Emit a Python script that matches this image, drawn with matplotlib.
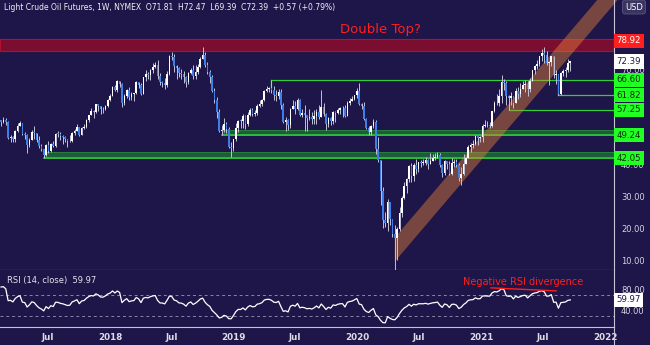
import numpy as np
import pandas as pd
import matplotlib
matplotlib.use("Agg")
import matplotlib.pyplot as plt
import matplotlib.dates as mdates
import matplotlib.transforms as mtrans
from matplotlib.patches import Rectangle, Polygon
from matplotlib.lines import Line2D

# weekly closes / highs / lows (weeks starting Monday), Nov 2016 .. Sep 2021
close_2016 = [43.41, 45.69, 46.06, 51.68, 51.50, 51.90, 53.02, 53.72]
high_2016 = [45.95, 46.40, 49.20, 51.90, 52.42, 53.62, 53.40, 54.37]
low_2016 = [42.20, 43.03, 45.80, 44.82, 50.25, 50.27, 51.25, 52.75]

close_2017 = [53.99, 52.37, 53.22, 53.17, 53.83, 53.86, 53.40, 53.99, 53.33, 48.49, 48.78, 47.97, 50.60,
              52.24, 53.18, 49.62, 49.33, 46.22, 47.84, 50.33, 49.80, 47.66, 45.83, 44.74, 43.01, 46.04,
              44.23, 46.54, 45.77, 49.71, 49.58, 48.82, 48.51, 47.87, 47.29, 47.48, 49.89, 50.66, 51.67,
              49.29, 51.45, 51.84, 53.90, 55.64, 56.74, 56.55, 58.95, 58.36, 57.36, 57.30, 58.47, 60.42]
high_2017 = [55.24, 53.90, 53.75, 54.33, 54.48, 54.10, 54.00, 54.94, 54.60, 53.80, 49.22, 49.08, 50.85,
             53.00, 53.76, 53.10, 50.15, 49.46, 48.20, 50.84, 52.00, 50.05, 48.85, 46.38, 44.80, 46.40,
             47.32, 46.90, 47.45, 49.81, 50.43, 50.22, 49.20, 48.87, 48.02, 49.42, 50.28, 51.11, 52.86,
             51.78, 51.80, 52.80, 54.20, 55.72, 57.92, 57.00, 59.05, 58.90, 58.50, 58.16, 58.70, 60.51]
low_2017 = [51.97, 50.71, 50.91, 52.15, 52.12, 51.22, 52.21, 53.10, 52.42, 48.08, 47.09, 47.05, 47.10,
            50.30, 52.25, 49.40, 48.18, 43.76, 45.50, 47.80, 48.18, 47.03, 45.20, 44.20, 42.05, 42.60,
            43.70, 43.80, 45.40, 45.50, 48.54, 47.80, 46.46, 46.96, 45.58, 47.02, 46.95, 49.30, 50.55,
            49.10, 49.45, 51.06, 51.37, 53.45, 55.60, 54.48, 56.15, 56.75, 55.82, 56.05, 57.05, 58.22]

close_2018 = [61.44, 64.30, 63.37, 66.14, 65.45, 59.20, 61.68, 63.55, 61.25, 62.04, 62.34, 65.88, 64.94,
              62.06, 67.39, 68.38, 68.10, 69.72, 70.70, 71.28, 67.88, 65.81, 65.74, 65.06, 68.58, 74.15,
              73.80, 71.01, 70.46, 68.69, 68.49, 67.63, 65.91, 68.72, 69.80, 67.75, 68.99, 70.78, 73.25,
              74.34, 71.34, 69.12, 67.59, 63.14, 60.19, 56.46, 50.42, 50.93, 52.61, 51.20, 45.59, 45.33]
high_2018 = [62.21, 64.77, 64.89, 66.66, 66.40, 65.74, 62.09, 63.73, 64.24, 62.90, 62.45, 66.16, 66.07,
             65.50, 67.45, 69.56, 69.00, 70.00, 71.89, 72.30, 72.90, 68.71, 66.22, 67.14, 69.28, 74.46,
             75.27, 74.70, 71.36, 70.80, 70.07, 69.49, 67.72, 69.07, 70.45, 71.40, 71.28, 71.64, 73.81,
             76.90, 75.50, 72.11, 69.79, 68.15, 64.14, 61.18, 57.55, 52.40, 54.55, 53.27, 51.93, 47.03]
low_2018 = [60.10, 61.60, 63.00, 62.81, 64.33, 58.07, 58.84, 60.79, 60.15, 60.15, 60.11, 62.05, 64.20,
            61.84, 62.06, 66.15, 67.03, 66.52, 68.63, 70.37, 66.90, 64.93, 64.27, 63.59, 64.21, 68.23,
            72.75, 69.16, 67.03, 67.49, 66.92, 65.71, 64.43, 65.31, 68.48, 66.85, 66.90, 68.40, 70.30,
            73.06, 70.79, 68.47, 65.74, 62.80, 59.26, 54.75, 50.15, 49.41, 50.08, 49.91, 45.07, 42.36]

close_2019 = [47.96, 51.59, 53.80, 53.69, 55.26, 52.72, 55.59, 57.26, 55.80, 56.07, 58.52, 59.04, 60.14,
              63.08, 63.89, 64.00, 63.30, 61.94, 61.66, 62.76, 58.63, 53.50, 54.00, 52.51, 57.43, 58.47,
              57.51, 60.21, 55.63, 56.20, 55.66, 54.50, 54.87, 54.17, 55.10, 56.52, 54.85, 58.09, 55.91,
              52.81, 54.70, 53.78, 56.66, 56.20, 57.24, 57.72, 57.77, 55.17, 59.20, 60.07, 60.44, 61.72]
high_2019 = [48.12, 52.95, 54.10, 54.21, 55.75, 55.65, 56.38, 57.81, 57.88, 57.25, 58.99, 60.39, 60.74,
             63.40, 64.79, 64.44, 66.60, 64.77, 63.32, 63.85, 63.70, 59.23, 54.84, 54.40, 57.90, 60.27,
             59.93, 60.94, 60.47, 57.38, 58.82, 55.35, 57.47, 56.59, 57.04, 57.50, 58.76, 63.38, 59.30,
             56.13, 54.95, 54.81, 56.89, 56.92, 57.88, 58.00, 58.50, 58.57, 59.85, 60.93, 61.50, 61.88]
low_2019 = [44.35, 47.53, 50.20, 51.33, 51.33, 51.23, 51.97, 55.26, 55.35, 55.34, 55.70, 58.05, 58.25,
            60.02, 62.65, 62.85, 62.61, 60.40, 60.04, 60.64, 57.33, 52.97, 50.60, 50.72, 51.33, 57.36,
            55.75, 57.04, 55.16, 55.06, 50.52, 50.52, 53.90, 52.70, 52.86, 52.81, 54.23, 57.18, 55.20,
            50.99, 51.87, 52.37, 52.62, 53.30, 55.82, 56.03, 55.01, 54.92, 55.37, 58.55, 59.90, 60.27]

close_2020 = [63.05, 59.04, 58.54, 54.19, 51.56, 50.32, 52.05, 53.38, 44.76, 41.28, 31.73, 22.43, 21.51,
              28.34, 22.76, 18.27, 16.94, 19.78, 24.74, 29.43, 33.25, 35.49, 39.55, 36.26, 39.75, 38.49,
              40.65, 40.55, 40.59, 41.29, 40.27, 41.22, 42.01, 42.34, 42.97, 39.77, 37.33, 41.11, 40.25,
              37.05, 40.60, 40.88, 39.85, 35.79, 37.14, 40.13, 42.15, 45.53, 46.26, 46.57, 49.10, 48.23,
              48.52]
high_2020 = [64.09, 65.65, 59.45, 59.65, 54.48, 52.13, 52.40, 54.45, 54.00, 48.66, 35.00, 33.00, 25.24,
             29.13, 28.36, 22.47, 21.00, 20.48, 26.74, 30.00, 34.66, 35.73, 39.80, 40.44, 40.40, 41.63,
             40.76, 41.33, 41.63, 42.51, 41.62, 43.52, 43.29, 43.78, 43.88, 43.68, 40.02, 41.39, 40.83,
             40.98, 41.91, 41.65, 41.62, 40.44, 39.23, 43.16, 42.43, 46.26, 46.68, 47.74, 49.40, 49.03,
             48.96]
low_2020 = [60.80, 58.78, 57.36, 53.95, 51.32, 49.31, 49.42, 51.57, 43.32, 40.84, 27.34, 20.06, 20.52,
            19.27, 21.07, 17.31, 6.50, 10.07, 19.11, 23.65, 29.03, 31.13, 34.36, 34.66, 34.88, 37.08,
            37.71, 39.30, 39.70, 39.82, 38.72, 40.39, 41.35, 41.38, 42.18, 39.11, 36.13, 36.65, 38.68,
            36.63, 36.70, 39.32, 39.25, 34.92, 33.64, 36.75, 40.14, 42.10, 43.79, 45.31, 46.17, 46.20,
            47.13]

close_2021 = [52.24, 52.36, 52.27, 52.20, 56.85, 59.47, 59.24, 61.50, 66.09, 65.61, 61.42, 60.97, 61.45,
              59.32, 63.13, 62.14, 63.58, 64.90, 65.37, 63.58, 66.32, 69.62, 70.91, 71.64, 74.05, 75.16,
              74.56, 71.81, 72.07, 73.95, 68.28, 68.44, 62.32, 68.74, 69.29, 69.72, 71.82, 72.39]
high_2021 = [52.75, 53.93, 53.55, 53.44, 56.95, 59.82, 62.26, 63.81, 67.98, 67.02, 66.40, 61.82, 62.70,
             61.69, 63.98, 64.36, 65.47, 66.39, 66.66, 66.40, 67.06, 69.77, 71.24, 72.99, 74.25, 76.40,
             76.98, 75.52, 72.40, 74.24, 74.00, 69.56, 68.33, 69.12, 70.14, 70.58, 73.13, 72.47]
low_2021 = [47.18, 51.82, 51.82, 51.39, 51.86, 56.60, 58.61, 58.40, 59.47, 63.27, 58.73, 57.25, 58.62,
            57.63, 59.45, 60.56, 61.25, 63.62, 62.87, 61.56, 62.93, 66.12, 68.40, 70.10, 71.05, 72.63,
            71.82, 71.20, 65.01, 71.10, 67.25, 65.15, 61.74, 61.82, 67.67, 67.58, 69.16, 69.39]

last_open = 71.81
support_levels = [66.60, 61.82, 57.25]
support_zones = [(49.24, 50.90), (42.05, 43.90)]
resistance_zone = (75.80, 79.30)
resistance_label = 78.92
last_rsi = 59.97

closes = np.array(close_2016 + close_2017 + close_2018 + close_2019 + close_2020 + close_2021)
highs = np.array(high_2016 + high_2017 + high_2018 + high_2019 + high_2020 + high_2021)
lows = np.array(low_2016 + low_2017 + low_2018 + low_2019 + low_2020 + low_2021)
dates = pd.date_range(end="2021-09-20", periods=len(closes), freq="W-MON")
x = mdates.date2num(dates)

opens = np.r_[closes[0], closes[:-1]]
opens[-1] = last_open
hi = np.maximum.reduce([highs, opens, closes])
lo = np.minimum.reduce([lows, opens, closes])


def rsi(c, n=14):
    d = np.diff(c)
    g = np.where(d > 0, d, 0.0)
    l = np.where(d < 0, -d, 0.0)
    ag, al = g[:n].mean(), l[:n].mean()
    out = np.full(len(c), np.nan)
    out[n] = 100 - 100 / (1 + ag / al)
    for i in range(n + 1, len(c)):
        ag = (ag * (n - 1) + g[i - 1]) / n
        al = (al * (n - 1) + l[i - 1]) / n
        out[i] = 100 - 100 / (1 + ag / al) if al > 0 else 100
    return out


rsi_vals = rsi(closes)

BG = "#1e1548"
AXC = "#c4c4d4"
W, H = 650, 345

fig = plt.figure(figsize=(6.5, 3.45), dpi=100, facecolor=BG)
ax = fig.add_axes([0, 75 / H, 614 / W, 270 / H], facecolor=BG)
axr = fig.add_axes([0, 18 / H, 614 / W, 57 / H], facecolor=BG, sharex=ax)

xmin = mdates.date2num(pd.Timestamp("2017-02-10"))
xmax = mdates.date2num(pd.Timestamp("2022-01-27"))
ax.set_xlim(xmin, xmax)
ax.set_ylim(6.86, 91.7)
axr.set_ylim(9.5, 116)

# resistance zone
ax.add_patch(Rectangle((xmin, resistance_zone[0]), xmax - xmin, resistance_zone[1] - resistance_zone[0],
                       fc="#7b0e30", ec="#b3122f", lw=0.8, zorder=1))

# support zones and lines
zone_start = [pd.Timestamp("2018-11-26"), pd.Timestamp("2017-06-19")]
for (lo_z, hi_z), st in zip(support_zones, zone_start):
    s = mdates.date2num(st)
    ax.add_patch(Rectangle((s, lo_z), xmax - s, hi_z - lo_z, fc="#1e5a3d", ec="#2a8a3c", lw=0.6, zorder=1))
    ax.plot([s, xmax], [lo_z, lo_z], color="#2fd03a", lw=1.1, zorder=1.2)

line_start = [pd.Timestamp("2019-04-22"), pd.Timestamp("2021-08-16"), pd.Timestamp("2021-03-22")]
for lvl, st in zip(support_levels, line_start):
    s = mdates.date2num(st)
    ax.plot([s, xmax], [lvl, lvl], color="#2fd03a", lw=0.9, zorder=1.2)
s = mdates.date2num(line_start[1])
ax.plot([s, s], [support_levels[1], support_levels[0]], color="#2fd03a", lw=0.9, zorder=1.2)
s = mdates.date2num(line_start[0])
ax.plot([s, s], [support_levels[0], support_levels[0] - 2.5], color="#2fd03a", lw=0.9, zorder=1.2)

# rising channel from the 2020 low
t0 = mdates.date2num(pd.Timestamp("2020-04-20"))
slope = 0.125
span = 720
chan = Polygon([(t0, 9.5), (t0, 17.0), (t0 + span, 17.0 + slope * span), (t0 + span, 9.5 + slope * span)],
               closed=True, fc="#e8833a", alpha=0.45, ec="none", zorder=1.5, clip_on=False)
ax.add_patch(chan)

# candles
up = closes >= opens
body = np.maximum(np.abs(closes - opens), 0.2)
ax.vlines(x, lo, hi, color="#c2c2d6", lw=0.7, zorder=3)
ax.bar(x[up], body[up], bottom=np.minimum(opens, closes)[up], width=4.8, color="white", lw=0, zorder=4)
ax.bar(x[~up], body[~up], bottom=np.minimum(opens, closes)[~up], width=4.8, color="#3d7fe6", lw=0, zorder=4)

# axes styling
for a in (ax, axr):
    for sp in a.spines.values():
        sp.set_visible(False)
    a.spines["right"].set_visible(True)
    a.spines["right"].set_color(AXC)
    a.spines["right"].set_linewidth(0.8)
    a.spines["bottom"].set_visible(True)
    a.spines["bottom"].set_color(AXC)
    a.spines["bottom"].set_linewidth(0.8)
    a.yaxis.tick_right()
    a.tick_params(axis="y", length=0, pad=5, labelsize=6, labelcolor="#d4d4e2")
fig.add_artist(Line2D([614 / W, 614 / W], [0, 18 / H], color=AXC, lw=0.8))

# 50 and 60 sit under the level tags, so only the visible ones are labelled
ax.set_yticks([10, 20, 30, 40, 70])
ax.set_yticklabels(["%.2f" % v for v in [10, 20, 30, 40, 70]])
ax.tick_params(axis="x", length=0, labelbottom=False)

ticks = [pd.Timestamp(d) for d in ["2017-07-01", "2018-01-01", "2018-07-01", "2019-01-01", "2019-07-01",
                                     "2020-01-01", "2020-07-01", "2021-01-01", "2021-07-01", "2022-01-01"]]
axr.set_xticks(mdates.date2num(ticks))
axr.set_xticklabels(["Jul" if t.month == 7 else str(t.year) for t in ticks])
axr.tick_params(axis="x", length=0, pad=4, labelsize=6.3, labelcolor="#dcdce8")
for t in axr.get_xticklabels():
    t.set_fontweight("bold")

# price labels on the axis
trans = mtrans.blended_transform_factory(ax.transAxes, ax.transData)


def price_tag(a, tr, y, txt, fc, tc):
    a.text(1.004, y, txt, transform=tr, ha="left", va="center", fontsize=6.2, color=tc, zorder=10,
           clip_on=False, bbox=dict(boxstyle="square,pad=0.3", fc=fc, ec="none"))


price_tag(ax, trans, resistance_label, "%.2f" % resistance_label, "#ff1f1f", "white")
price_tag(ax, trans, closes[-1], "%.2f" % closes[-1], "white", "#1e1548")
for lvl in support_levels + [z[0] for z in support_zones]:
    price_tag(ax, trans, lvl, "%.2f" % lvl, "#22ff22", "#0a2a0a")

# RSI panel
axr.plot(x, rsi_vals, color="white", lw=0.9, zorder=3)
axr.axhline(70, color="#8a86a8", lw=0.7, ls=(0, (3, 3)))
axr.axhline(30, color="#8a86a8", lw=0.7, ls=(0, (3, 3)))
axr.set_yticks([40, 80])
axr.set_yticklabels(["40.00", "80.00"])
trans_r = mtrans.blended_transform_factory(axr.transAxes, axr.transData)
price_tag(axr, trans_r, last_rsi, "%.2f" % last_rsi, "white", "#1e1548")

axr.plot(mdates.date2num([pd.Timestamp("2021-01-29"), pd.Timestamp("2021-08-09")]), [82.6, 77.0],
         color="#ff1f1f", lw=1.0, zorder=4)
axr.text(mdates.date2num(pd.Timestamp("2021-05-03")), 94, "Negative RSI divergence", color="#ff1f1f",
         fontsize=7, ha="center", va="center", zorder=5)
axr.text(0.012, 0.82, "RSI (14, close)  %.2f" % last_rsi, transform=axr.transAxes, color="#e4e4ee",
         fontsize=6, ha="left", va="center")

# titles / notes
fig.text(4 / W, 1 - 8 / H,
         "Light Crude Oil Futures, 1W, NYMEX  O71.81  H72.47  L69.39  C72.39  +0.57 (+0.79%)",
         color="#f0f0f6", fontsize=5.5, ha="left", va="center")
ax.text(0.62, 1 - 30 / 270, "Double Top?", transform=ax.transAxes, color="#ff1f1f", fontsize=9.5,
        ha="center", va="center", zorder=6)
fig.text(634 / W, 1 - 7 / H, "USD", color="white", fontsize=6, ha="center", va="center",
         bbox=dict(boxstyle="round,pad=0.3", fc="#3a3560", ec="#5a5680", lw=0.6))

fig.savefig("out.png", dpi=100, facecolor=BG)
